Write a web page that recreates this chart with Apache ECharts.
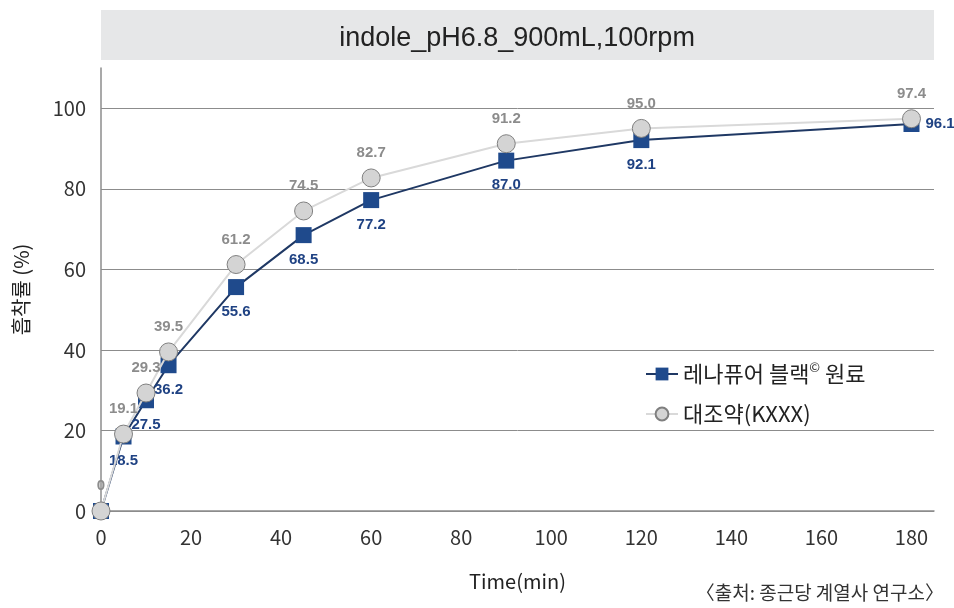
<!DOCTYPE html>
<html><head><meta charset="utf-8">
<script src="https://cdn.jsdelivr.net/npm/echarts@6/dist/echarts.min.js"></script>
<style>html,body{margin:0;padding:0;background:#fff}#c{width:954px;height:608px}</style>
</head><body><div id="c"></div>
<script>
const times = [0, 5, 10, 15, 30, 45, 60, 90, 120, 180];
const renapure = [0, 18.5, 27.5, 36.2, 55.6, 68.5, 77.2, 87.0, 92.1, 96.1];
const control = [0, 19.1, 29.3, 39.5, 61.2, 74.5, 82.7, 91.2, 95.0, 97.4];
const seriesNames = ['레나퓨어 블랙© 원료', '대조약(KXXX)'];
const titleText = 'indole_pH6.8_900mL,100rpm';
const sourceText = '〈출처: 종근당 계열사 연구소〉';

const KR = '"Noto Sans CJK KR", "Noto Sans", sans-serif';
const LAB = '"Liberation Sans", Arial, sans-serif';
const blueData = times.map((t, i) => {
  const d = { value: [t, renapure[i]] };
  if (i === 0) d.label = { show: false };
  if (i === times.length - 1) d.label = { position: 'right', distance: 6 };
  return d;
});
const greyData = times.map((t, i) => ({ value: [t, control[i]] }));

const chart = echarts.init(document.getElementById('c'), null, { renderer: 'canvas' });
chart.setOption({
  animation: false,
  graphic: [
    { type: 'rect', left: 101, top: 10, shape: { width: 833, height: 50 }, style: { fill: '#e6e7e8' }, z: 0 },
    { type: 'text', right: 10, top: 583, style: { text: sourceText, font: '19px ' + KR, fill: '#333' } }
  ],
  title: {
    text: titleText, left: 512, top: 20, textAlign: 'center',
    textStyle: { fontFamily: '"Liberation Sans Narrow", "Liberation Sans", Arial, sans-serif', fontSize: 27, fontWeight: 'normal', color: '#222' }
  },
  grid: { left: 101, right: 20, top: 68, bottom: 97 },
  legend: {
    orient: 'vertical', left: 640, top: 356, itemGap: 14, itemWidth: 32, itemHeight: 16,
    textStyle: { fontFamily: KR, fontSize: 22, color: '#222', lineHeight: 26,
      rich: { s: { fontFamily: KR, fontSize: 13, lineHeight: 13, verticalAlign: 'top', color: '#222' } } },
    formatter: n => n.replace('©', '{s|©}'),
    data: seriesNames
  },
  xAxis: {
    type: 'value', min: 0, max: 185, interval: 20,
    name: 'Time(min)', nameLocation: 'middle', nameGap: 60,
    nameTextStyle: { fontFamily: KR, fontSize: 20, color: '#222' },
    axisLine: { show: true, lineStyle: { color: '#8c8c8c', width: 1.5 } },
    axisTick: { show: false },
    splitLine: { show: false },
    axisLabel: { showMaxLabel: false, margin: 16, fontFamily: KR, fontSize: 20, color: '#333' }
  },
  yAxis: {
    type: 'value', min: 0, max: 110, interval: 20,
    name: '흡착률 (%)', nameLocation: 'middle', nameGap: 70, nameRotate: 90,
    nameTextStyle: { fontFamily: KR, fontSize: 20, color: '#222' },
    axisLine: { show: true, lineStyle: { color: '#8c8c8c', width: 1.5 } },
    axisTick: { show: false },
    splitLine: { show: true, showMaxLine: false, lineStyle: { color: '#8c8c8c', width: 1 } },
    axisLabel: { showMaxLabel: false, margin: 15, fontFamily: KR, fontSize: 20, color: '#333' }
  },
  series: [
    {
      name: seriesNames[0], type: 'line', data: blueData,
      symbol: 'rect', symbolSize: 16,
      lineStyle: { color: '#1f3864', width: 2 },
      itemStyle: { color: '#1f4a8c' },
      label: { show: true, position: 'bottom', distance: 9, fontFamily: LAB,
        fontSize: 15, fontWeight: 'bold', color: '#1f4283', formatter: p => p.value[1].toFixed(1) },
      z: 3
    },
    {
      name: seriesNames[1], type: 'line', data: greyData,
      symbol: 'circle', symbolSize: 18,
      lineStyle: { color: '#d9d9d9', width: 2 },
      itemStyle: { color: '#d4d4d4', borderColor: '#7f7f7f', borderWidth: 1 },
      label: { show: true, position: 'top', distance: 8, fontFamily: LAB,
        fontSize: 15, fontWeight: 'bold', color: '#8c8c8c',
        formatter: p => p.value[1] === 0 ? '0' : p.value[1].toFixed(1) },
      z: 4
    }
  ]
});
</script></body></html>
